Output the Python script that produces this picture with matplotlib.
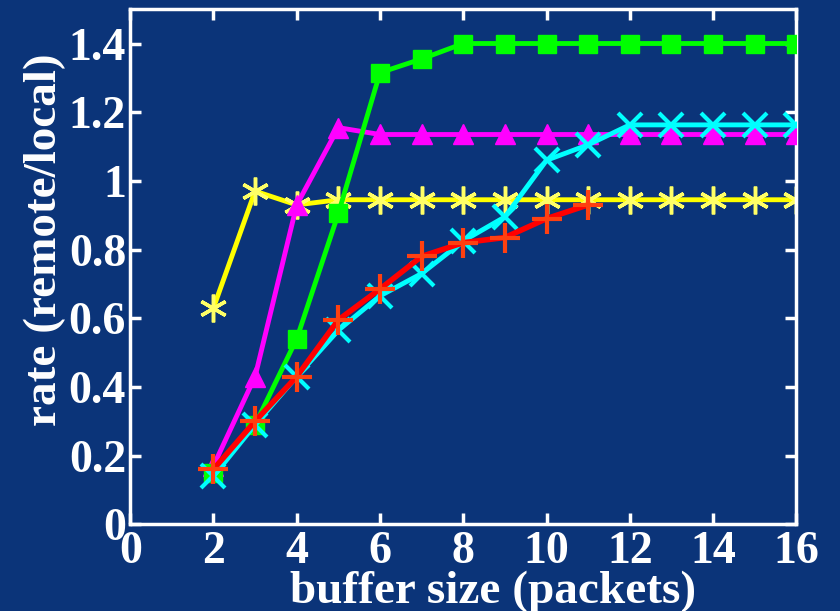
import numpy as np
import matplotlib
matplotlib.use('Agg')
import matplotlib.pyplot as plt
from matplotlib.ticker import FormatStrFormatter

# buffer sizes (packets)
buf_full = [2, 3, 4, 5, 6, 7, 8, 9, 10, 11, 12, 13, 14, 15, 16]
buf_short = [2, 3, 4, 5, 6, 7, 8, 9, 10, 11]

# rate (remote/local) per series
rate_yellow = [0.63, 0.97, 0.93, 0.945, 0.945, 0.945, 0.945, 0.945, 0.945,
               0.945, 0.945, 0.945, 0.945, 0.945, 0.945]
rate_magenta = [0.17, 0.43, 0.93, 1.155, 1.135, 1.135, 1.135, 1.135, 1.135,
                1.135, 1.135, 1.135, 1.135, 1.135, 1.135]
rate_green = [0.15, 0.29, 0.54, 0.905, 1.315, 1.355, 1.40, 1.40, 1.40,
              1.40, 1.40, 1.40, 1.40, 1.40, 1.40]
rate_cyan = [0.14, 0.29, 0.43, 0.565, 0.665, 0.73, 0.825, 0.895, 1.06,
             1.105, 1.163, 1.163, 1.163, 1.163, 1.163]
rate_red = [0.16, 0.30, 0.43, 0.595, 0.685, 0.78, 0.82, 0.835, 0.89, 0.93]

bg = '#0b3479'
font = ['Liberation Serif', 'DejaVu Serif']
fs = 33

fig = plt.figure(figsize=(8.4, 6.11), dpi=100, facecolor=bg)
ax = fig.add_axes([0.155, 0.142, 0.793, 0.843], facecolor=bg)

ax.plot(buf_full, rate_yellow, color='#ffff00', lw=3.5, zorder=2)
ax.plot(buf_full, rate_yellow, ls='none', marker=(6, 2, 0), ms=20,
        mew=2.5, mec='#ffff66', zorder=2)
ax.plot(buf_full, rate_magenta, color='#ff00ff', lw=3.5, marker='^',
        ms=14, mec='#ff00ff', zorder=3)
ax.plot(buf_full, rate_green, color='#00ff00', lw=3.5, marker='s',
        ms=13, mec='#00ff00', zorder=4)
ax.plot(buf_full, rate_cyan, color='#00ffff', lw=3.5, marker='x',
        ms=17, mew=3, mec='#00ffff', zorder=5)
ax.plot(buf_short, rate_red, color='#ff0000', lw=4, marker='+',
        ms=22, mew=3, mec='#ff4010', zorder=6)

ax.set_xlim(0, 16)
ax.set_ylim(0, 1.5)
ax.set_xticks(np.arange(0, 17, 2))
ax.set_yticks(np.arange(0, 1.41, 0.2))
ax.yaxis.set_major_formatter(FormatStrFormatter('%g'))

for s in ax.spines.values():
    s.set_color('white')
    s.set_linewidth(2.5)
ax.tick_params(direction='in', length=8, width=2.5, color='white',
               top=True, right=True, labelcolor='white')
ax.tick_params(axis='x', pad=5)
ax.tick_params(axis='y', pad=3)
for lab in ax.get_xticklabels() + ax.get_yticklabels():
    lab.set_family(font)
    lab.set_weight('bold')
    lab.set_fontsize(fs)

ax.set_xlabel('buffer size (packets)', family=font, weight='bold',
              fontsize=fs + 1, color='white', va='baseline')
ax.xaxis.set_label_coords(0.544, -0.153)
ax.set_ylabel('rate (remote/local)', family=font, weight='bold',
              fontsize=fs + 1, color='white', va='center')
ax.yaxis.set_label_coords(-0.128, 0.553)

fig.savefig('out.png', dpi=100, facecolor=bg)
